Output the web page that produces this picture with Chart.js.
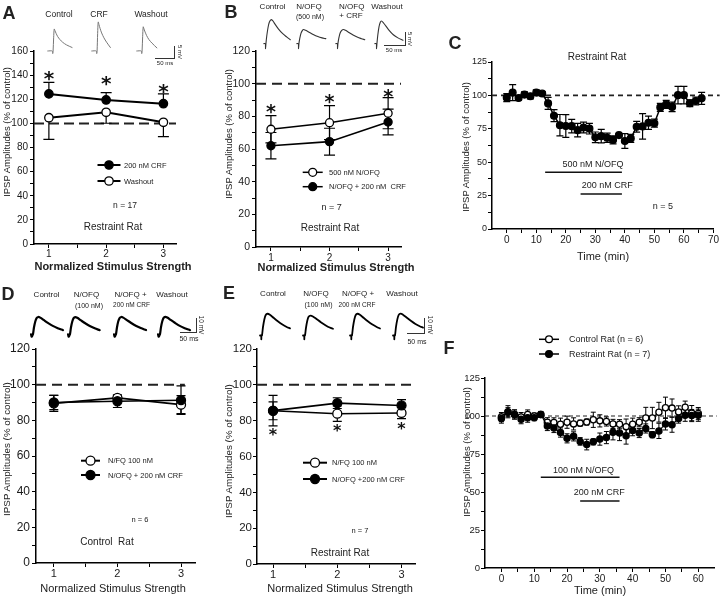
<!DOCTYPE html>
<html><head><meta charset="utf-8">
<script src="https://cdn.jsdelivr.net/npm/chart.js@4.4.1/dist/chart.umd.min.js"></script>
<style>
html,body{margin:0;padding:0;background:#fff;}
#wrap{position:relative;width:720px;height:597px;overflow:hidden;background:#fff;font-family:'Liberation Sans',Arial,sans-serif;color:#222;}
canvas{position:absolute;left:0;top:0;}
.t{position:absolute;white-space:pre;line-height:1;transform:translate(-50%,-50%);}
.sb{position:absolute;border-right:1.3px solid #333;border-bottom:1.3px solid #333;box-sizing:border-box;}
</style></head><body><div id="wrap"></div>
<script>
// ---------------- DATA ----------------
const stimStrength = [1, 2, 3];
const strengthTicks = [1, 1.5, 2, 2.5, 3];
const strengthLabels = [1, 2, 3];
const yTicks160 = [0,10,20,30,40,50,60,70,80,90,100,110,120,130,140,150,160];
const yLabels160 = [0,20,40,60,80,100,120,140,160];
const yTicks120 = [0,10,20,30,40,50,60,70,80,90,100,110,120];
const yLabels120 = [0,20,40,60,80,100,120];
const yTicks125 = [0,12.5,25,37.5,50,62.5,75,87.5,100,112.5,125];
const yLabels125 = [0,25,50,75,100,125];
const cTimeTicks = [0,5,10,15,20,25,30,35,40,45,50,55,60,65,70];
const cTimeLabels = [0,10,20,30,40,50,60,70];
const fTimeTicks = [0,5,10,15,20,25,30,35,40,45,50,55,60];
const fTimeLabels = [0,10,20,30,40,50,60];

// Panel A
const a_crf = [124.4, 119.4, 116.3];
const a_crfErr = [9.6, 6.1, 8.1];
const a_washout = [104.7, 109.2, 100.9];
const a_washoutErr = [17.9, 9.1, 11.9];
const a_stars = [141, 136.6, 130];

// Panel B
const b_nofq = [72.1, 76.1, 81.9];
const b_nofqErr = [8.3, 10.4, 9.5];
const b_nofqCrf = [62, 64.5, 76.5];
const b_nofqCrfErr = [8.1, 8.2, 7.9];
const b_stars = [85.5, 91.4, 94.7];

// Panel C
const c_time = [0,2,4,6,8,10,12,14,16,18,20,22,24,26,28,30,32,34,36,38,40,42,44,46,48,50,52,54,56,58,60,62,64,66];
const c_amp = [98.3,102.1,98,100.6,99.4,102.1,101.4,94,84.8,77.7,77.1,77,74,76,75.1,68.6,69.5,68.3,66.7,70.3,65.9,67.8,76.5,76.8,79.5,79.2,91,93.3,91.4,100.2,100.2,94.1,95.8,97.8];
const c_err = [3,6,1.5,2,2,2,1.5,4.5,4.5,8,8.5,5,5,4,4,4,5,3.5,3,1,5.5,3,4,9.5,5,3,3,3,3.5,6.5,6.5,2.5,3,4.5];
const c_drugLabels = ['500 nM N/OFQ', '200 nM CRF'];
const c_drugStart = [13, 25];
const c_drugEnd = [39, 39];
const c_drugLevel = [42.4, 26.2];

// Panel D
const d_nfq = [89.5, 92.6, 88.8];
const d_nfqErr = [4.5, 1.5, 5];
const d_nofqCrf = [90, 90.7, 91.3];
const d_nofqCrfErr = [4, 3.5, 8];

// Panel E
const e_nfq = [85.5, 83.9, 84.3];
const e_nfqErr = [5, 4.3, 3.2];
const e_nofqCrf = [85.6, 89.8, 88.5];
const e_nofqCrfErr = [8.5, 3, 3.2];
const e_stars = [73.9, 76.1, 77.6];

// Panel F
const f_time = [0,2,4,6,8,10,12,14,16,18,20,22,24,26,28,30,32,34,36,38,40,42,44,46,48,50,52,54,56,58,60];
const f_restraint = [98.3,102.5,101,97.9,98.9,98.9,101,93.4,92.1,89.1,85.3,86.6,83.3,81.2,83,84.8,85.8,89.3,88.8,87,90.5,88.8,91.8,87.7,90.2,94.8,94.3,98.3,100.5,100.3,100.5];
const f_restraintErr = [3,3,3,3,3,2,2,3,3,3,3,3,2.5,3.5,2,4,4,5,5,5.5,3.5,3,3,2,5,4,5,3,4,4,4];
const f_control = [99.3,102.8,101,99.3,101,100,101,95.9,95.8,94.6,95.9,94.8,95.3,96,97.5,96.8,96.4,94.8,94.6,93,94.6,95.9,98.7,98.7,102.5,105.4,105.2,102.7,105.8,101.9,101.6];
const f_controlErr = [3,4,3,3,3,2,2,3,3,4,4,4,2,2,5,4,3,3,3,5,4,3,7,7,6.5,7,6,4,4,5,4];
const f_drugLabels = ['100 nM N/OFQ', '200 nM CRF'];
const f_drugStart = [12, 24];
const f_drugEnd = [36, 36];
const f_drugLevel = [59.7, 44.1];

// Example IPSP traces: [time (ms), amplitude (mV)]
const traceA_control = [[-14,0],[-2,0],[-1,-1.2],[0,0],[1.5,6],[3,10],[5,9.2],[8,8],[12,6.6],[18,5.2],[25,4],[35,2.8],[50,1.6]];
const traceA_crf = [[-14,0],[-2,0],[-1,-1.2],[0,0],[1.5,8],[3,13.2],[5,12],[8,10.2],[12,8.2],[18,6],[25,4],[35,1.6]];
const traceA_washout = [[-14,0],[-2,0],[-1,-1.2],[0,0],[1.5,6.5],[3,11],[5,10],[8,8.6],[12,7],[18,5.2],[26,3.6],[39,1.4]];
const traceB_control = [[-5,0],[-1.5,0],[-1,-2],[0,0],[2,3],[5,6.2],[8,8.2],[12,9.2],[16,8.8],[22,7.4],[30,5.6],[40,3.8],[50,2.5],[58,1.5]];
const traceB_nofq = [[-5,0],[-1.5,0],[-1,-2],[0,0],[2,2],[5,4],[8,5],[11,5.4],[16,5.1],[24,4.4],[34,3.5],[45,2.7],[55,2.2],[64,1.9]];
const traceB_nofqCrf = [[-5,0],[-1.5,0],[-1,-2],[0,0],[2,2],[5,4],[9,5.1],[13.5,5.4],[18,5.1],[26,4.3],[36,3.3],[47,2.4],[56,1.9],[64,1.5]];
const traceB_washout = [[-5,0],[-1.5,0],[-1,-2],[0,0],[2,3.2],[5,6.5],[8,8.2],[10.5,8.7],[15,8.1],[21,6.8],[29,5.1],[39,3.4],[50,2.2],[62,1.3]];
const traceD_control = [[-6,0],[-4,-1.8],[-2,-1],[0,0],[3,5],[7,9.5],[11,12],[16,12.8],[22,12.3],[32,10.6],[45,8.4],[60,6.2],[75,4.5],[91,3]];
const traceD_nofq = [[-6,0],[-4,-1.8],[-2,-1],[0,0],[3,5],[7,9.4],[11,11.9],[16,12.7],[22,12.2],[32,10.5],[45,8.3],[60,6.1],[75,4.4],[90,3]];
const traceD_nofqCrf = [[-6,0],[-4,-1.8],[-2,-1],[0,0],[3,5],[7,9.6],[11,12],[16,12.8],[22,12.3],[32,10.7],[45,8.5],[60,6.3],[75,4.6],[91,3.1]];
const traceD_washout = [[-6,0],[-4,-1.8],[-2,-1],[0,0],[3,5.1],[7,9.6],[11,12.1],[16,12.9],[22,12.4],[32,10.7],[45,8.5],[60,6.2],[75,4.5],[91,3]];
const traceE_control = [[-6,0],[-2.2,0],[-2,-2.5],[-1.8,0],[0,0],[3,5.5],[7,10.5],[11,13.5],[17,14.5],[24,13.8],[35,11.8],[48,9.5],[62,7.3],[75,5.7],[85,4.8]];
const traceE_nofq = [[-6,0],[-2.2,0],[-2,-2.5],[-1.8,0],[0,0],[3,5],[7,9.8],[11,12.5],[17,13.3],[24,12.7],[35,11],[48,8.9],[62,6.9],[75,5.3],[85,4.5]];
const traceE_nofqCrf = [[-6,0],[-2.2,0],[-2,-2.5],[-1.8,0],[0,0],[3,5.5],[7,10.5],[11,13.5],[17,14.5],[24,13.8],[35,11.8],[48,9.5],[62,7.3],[75,5.7],[85,4.7]];
const traceE_washout = [[-6,0],[-2.2,0],[-2,-2.5],[-1.8,0],[0,0],[3,5.6],[7,10.6],[11,13.6],[17,14.6],[24,13.9],[35,12],[48,9.8],[62,7.7],[75,6.2],[85,5.3]];

// ---------------- RENDERING ----------------
const wrap = document.getElementById('wrap');
Chart.defaults.font.family = "'Liberation Sans', Arial, sans-serif";
Chart.defaults.color = '#1a1a1a';
const FONT = "'Liberation Sans', Arial, sans-serif";

const panelDecor = {
  id: 'panelDecor',
  beforeDatasetsDraw(chart, args, o) {
    const ctx = chart.ctx, xs = chart.scales.x, ys = chart.scales.y;
    if (o.ref) {
      ctx.save();
      ctx.strokeStyle = '#222'; ctx.lineWidth = o.ref.width; ctx.setLineDash(o.ref.dash);
      const y = ys.getPixelForValue(o.ref.value);
      ctx.beginPath(); ctx.moveTo(chart.chartArea.left, y); ctx.lineTo(xs.getPixelForValue(o.ref.xEnd), y); ctx.stroke();
      ctx.restore();
    }
    (o.errors || []).forEach(e => {
      const ds = chart.data.datasets[e.ds];
      ctx.save(); ctx.strokeStyle = '#000'; ctx.lineWidth = e.lw || 1.2;
      ds.data.forEach((p, i) => {
        const err = e.values[i];
        const x = xs.getPixelForValue(p.x);
        const hi = ys.getPixelForValue(p.y + (e.dir !== 'down' ? err : 0));
        const lo = ys.getPixelForValue(p.y - (e.dir !== 'up' ? err : 0));
        ctx.beginPath(); ctx.moveTo(x, hi); ctx.lineTo(x, lo);
        if (e.dir !== 'down') { ctx.moveTo(x - e.cap / 2, hi); ctx.lineTo(x + e.cap / 2, hi); }
        if (e.dir !== 'up') { ctx.moveTo(x - e.cap / 2, lo); ctx.lineTo(x + e.cap / 2, lo); }
        ctx.stroke();
      });
      ctx.restore();
    });
  },
  afterDatasetsDraw(chart, args, o) {
    const ctx = chart.ctx, xs = chart.scales.x, ys = chart.scales.y;
    if (o.stars) {
      ctx.save(); ctx.fillStyle = '#111'; ctx.textAlign = 'center'; ctx.textBaseline = 'alphabetic';
      ctx.font = `bold ${o.stars.size}px 'DejaVu Sans', sans-serif`;
      o.stars.x.forEach((xv, i) => {
        ctx.fillText('*', xs.getPixelForValue(xv), ys.getPixelForValue(o.stars.y[i]) + 0.55 * o.stars.size);
      });
      ctx.restore();
    }
    if (o.drugs) {
      const d = o.drugs;
      ctx.save(); ctx.strokeStyle = '#111'; ctx.lineWidth = 1.5; ctx.fillStyle = '#222';
      ctx.font = `${d.size}px ${FONT}`; ctx.textAlign = 'center'; ctx.textBaseline = 'middle';
      d.labels.forEach((lab, i) => {
        const y = ys.getPixelForValue(d.level[i]);
        ctx.beginPath(); ctx.moveTo(xs.getPixelForValue(d.start[i]), y); ctx.lineTo(xs.getPixelForValue(d.end[i]), y); ctx.stroke();
        ctx.fillText(lab, xs.getPixelForValue(d.labelX[i]), y + d.labelDy[i]);
      });
      ctx.restore();
    }
    (o.legend || []).forEach(it => {
      const ds = chart.data.datasets[it.ds];
      ctx.save();
      ctx.strokeStyle = '#000'; ctx.lineWidth = it.lw || 1.5;
      ctx.beginPath(); ctx.moveTo(it.x - it.half, it.y); ctx.lineTo(it.x + it.half, it.y); ctx.stroke();
      ctx.beginPath(); ctx.arc(it.x, it.y, it.r, 0, Math.PI * 2);
      ctx.fillStyle = ds.pointBackgroundColor; ctx.fill(); ctx.lineWidth = 1.3; ctx.stroke();
      ctx.fillStyle = '#222'; ctx.font = `${it.size}px ${FONT}`; ctx.textAlign = 'left'; ctx.textBaseline = 'middle';
      ctx.fillText(ds.label, it.tx, it.y + 0.5);
      ctx.restore();
    });
  }
};

function series(label, xs, ys, filled, r, lw) {
  return {
    label, data: xs.map((x, i) => ({ x, y: ys[i] })),
    borderColor: '#000', borderWidth: lw, pointRadius: r, pointBorderWidth: 1.3,
    pointBackgroundColor: filled ? '#000' : '#fff', pointBorderColor: '#000',
    tension: 0, fill: false, clip: false
  };
}

function makePanel(cfg) {
  const cv = document.createElement('canvas'); cv.width = 720; cv.height = 597;
  wrap.appendChild(cv);
  const yW = 26, xH = 22;
  const axis = (a, isX) => ({
    type: 'linear', min: a.min, max: a.max,
    afterFit: s => { if (isX) s.height = xH; else s.width = yW; },
    afterBuildTicks: s => { s.ticks = a.ticks.map(v => ({ value: v })); },
    ticks: { autoSkip: false, maxRotation: 0, padding: a.pad, color: '#1a1a1a', font: { size: a.font },
      callback: v => a.labeled.includes(v) ? String(v) : '' },
    grid: { display: true, drawOnChartArea: false, drawTicks: true, tickLength: 4, color: '#000', lineWidth: 1 },
    border: { display: true, color: '#000', width: 1.5 }
  });
  return new Chart(cv, {
    type: 'line',
    data: { datasets: cfg.datasets },
    options: {
      responsive: false, animation: false, events: [],
      layout: { padding: { left: cfg.area.l - yW, right: 720 - cfg.area.r, top: cfg.area.t, bottom: 597 - cfg.area.b - xH } },
      scales: { x: axis(cfg.x, true), y: axis(cfg.y, false) },
      plugins: { legend: { display: false }, tooltip: { enabled: false }, panelDecor: cfg.decor }
    },
    plugins: [panelDecor]
  });
}

function makeTrace(spec, tr) {
  const W = Math.round((spec.tmax - spec.tmin) * spec.sx), H = Math.round((spec.vmax - spec.vmin) * spec.sy);
  const cv = document.createElement('canvas'); cv.width = W; cv.height = H;
  cv.style.left = Math.round(tr.x + spec.tmin * spec.sx) + 'px';
  cv.style.top = Math.round(tr.y - spec.vmax * spec.sy) + 'px';
  wrap.appendChild(cv);
  new Chart(cv, {
    type: 'line',
    data: { datasets: [{ data: tr.data.map(p => ({ x: p[0], y: p[1] })), borderColor: spec.color, borderWidth: spec.lw,
      pointRadius: 0, tension: 0.3, clip: false, borderJoinStyle: 'round', borderCapStyle: 'round' }] },
    options: { responsive: false, animation: false, events: [], layout: { padding: 0 },
      scales: { x: { type: 'linear', display: false, min: spec.tmin, max: spec.tmin + W / spec.sx },
                y: { type: 'linear', display: false, min: spec.vmax - H / spec.sy, max: spec.vmax } },
      plugins: { legend: { display: false }, tooltip: { enabled: false } } }
  });
}

function text(t, x, y, size, opt = {}) {
  const d = document.createElement('div'); d.className = 't'; d.textContent = t;
  d.style.left = x + 'px'; d.style.top = y + 'px'; d.style.fontSize = size + 'px';
  if (opt.bold) d.style.fontWeight = 'bold';
  if (opt.rot) d.style.transform = `translate(-50%,-50%) rotate(${opt.rot}deg)`;
  wrap.appendChild(d);
}
function scaleBar(l, t, w, h, bw) {
  const d = document.createElement('div'); d.className = 'sb';
  d.style.left = l + 'px'; d.style.top = t + 'px'; d.style.width = w + 'px'; d.style.height = h + 'px';
  if (bw) { d.style.borderRightWidth = bw + 'px'; d.style.borderBottomWidth = bw + 'px'; }
  wrap.appendChild(d);
}

// ---- Panel A ----
makePanel({
  area: { l: 34, r: 176, t: 51, b: 244 },
  x: { min: 0.74, max: 3.22, ticks: strengthTicks, labeled: strengthLabels, font: 10, pad: 0 },
  y: { min: 0, max: 160, ticks: yTicks160, labeled: yLabels160, font: 10, pad: 2 },
  datasets: [series('200 nM CRF', stimStrength, a_crf, true, 4.2, 2), series('Washout', stimStrength, a_washout, false, 4.2, 2)],
  decor: {
    ref: { value: 100, xEnd: 3.22, dash: [10, 5], width: 2 },
    errors: [{ ds: 0, values: a_crfErr, dir: 'up', cap: 11 }, { ds: 1, values: a_washoutErr, dir: 'down', cap: 11 }],
    stars: { x: stimStrength, y: a_stars, size: 20 },
    legend: [{ ds: 0, x: 109, y: 165, half: 11.5, r: 4.2, tx: 124, size: 7.5, lw: 2 }, { ds: 1, x: 109, y: 181, half: 11.5, r: 4.2, tx: 124, size: 7.5, lw: 2 }]
  }
});
// ---- Panel B ----
makePanel({
  area: { l: 256, r: 401, t: 51, b: 247 },
  x: { min: 0.745, max: 3.22, ticks: strengthTicks, labeled: strengthLabels, font: 10, pad: 1 },
  y: { min: 0, max: 120, ticks: yTicks120, labeled: yLabels120, font: 10.5, pad: 2 },
  datasets: [series('500 nM N/OFQ', stimStrength, b_nofq, false, 4, 1.6), series('N/OFQ + 200 nM  CRF', stimStrength, b_nofqCrf, true, 4, 1.6)],
  decor: {
    ref: { value: 100, xEnd: 3.22, dash: [10, 6], width: 2 },
    errors: [{ ds: 0, values: b_nofqErr, dir: 'both', cap: 11 }, { ds: 1, values: b_nofqCrfErr, dir: 'both', cap: 11 }],
    stars: { x: stimStrength, y: b_stars, size: 19 },
    legend: [{ ds: 0, x: 312.7, y: 172.3, half: 10, r: 4, tx: 329, size: 7.5 }, { ds: 1, x: 312.7, y: 186.7, half: 10, r: 4, tx: 329, size: 7.5 }]
  }
});
// ---- Panel C ----
makePanel({
  area: { l: 492, r: 714, t: 62, b: 229 },
  x: { min: -5, max: 70, ticks: cTimeTicks, labeled: cTimeLabels, font: 10, pad: 1 },
  y: { min: 0, max: 125, ticks: yTicks125, labeled: yLabels125, font: 9, pad: 1 },
  datasets: [series('Restraint Rat', c_time, c_amp, true, 3.4, 1.5)],
  decor: {
    ref: { value: 100, xEnd: 72.1, dash: [5, 4], width: 1.6 },
    errors: [{ ds: 0, values: c_err, dir: 'both', cap: 7 }],
    drugs: { labels: c_drugLabels, start: c_drugStart, end: c_drugEnd, level: c_drugLevel, labelX: [29.2, 34], labelDy: [-7.5, -8.5], size: 9 }
  }
});
// ---- Panel D ----
makePanel({
  area: { l: 36, r: 195, t: 349, b: 563 },
  x: { min: 0.72, max: 3.22, ticks: strengthTicks, labeled: strengthLabels, font: 11, pad: 0 },
  y: { min: 0, max: 120, ticks: yTicks120, labeled: yLabels120, font: 12, pad: 2 },
  datasets: [series('N/OFQ + 200 nM CRF', stimStrength, d_nofqCrf, true, 4.5, 1.6), series('N/FQ 100 nM', stimStrength, d_nfq, false, 4.5, 1.6)],
  decor: {
    ref: { value: 100, xEnd: 3.06, dash: [10, 6], width: 2 },
    errors: [{ ds: 0, values: d_nofqCrfErr, dir: 'both', cap: 9 }, { ds: 1, values: d_nfqErr, dir: 'both', cap: 9 }],
    legend: [{ ds: 1, x: 90.5, y: 460.7, half: 9.5, r: 4.5, tx: 108, size: 7.5, lw: 2 }, { ds: 0, x: 90.5, y: 475, half: 9.5, r: 4.5, tx: 108, size: 7.5, lw: 2 }]
  }
});
// ---- Panel E ----
makePanel({
  area: { l: 257, r: 415, t: 349, b: 564 },
  x: { min: 0.75, max: 3.21, ticks: strengthTicks, labeled: strengthLabels, font: 11, pad: 0 },
  y: { min: 0, max: 120, ticks: yTicks120, labeled: yLabels120, font: 11.5, pad: 1 },
  datasets: [series('N/OFQ +200 nM CRF', stimStrength, e_nofqCrf, true, 4.5, 1.6), series('N/FQ 100 nM', stimStrength, e_nfq, false, 4.5, 1.6)],
  decor: {
    ref: { value: 100, xEnd: 3.19, dash: [10, 6], width: 2 },
    errors: [{ ds: 0, values: e_nofqCrfErr, dir: 'both', cap: 9 }, { ds: 1, values: e_nfqErr, dir: 'both', cap: 9 }],
    stars: { x: stimStrength, y: e_stars, size: 16 },
    legend: [{ ds: 1, x: 315, y: 462.7, half: 12, r: 4.5, tx: 332, size: 7.5, lw: 2 }, { ds: 0, x: 315, y: 479, half: 12, r: 4.5, tx: 332, size: 7.5, lw: 2 }]
  }
});
// ---- Panel F ----
makePanel({
  area: { l: 485, r: 718, t: 378, b: 568 },
  x: { min: -5, max: 65, ticks: fTimeTicks, labeled: fTimeLabels, font: 10, pad: 1 },
  y: { min: 0, max: 125, ticks: yTicks125, labeled: yLabels125, font: 9.5, pad: 1 },
  datasets: [series('Restraint Rat (n = 7)', f_time, f_restraint, true, 3.1, 1.2), series('Control Rat (n = 6)', f_time, f_control, false, 3.1, 1.2)],
  decor: {
    ref: { value: 100, xEnd: 65.6, dash: [4, 3], width: 1.2 },
    errors: [{ ds: 0, values: f_restraintErr, dir: 'both', cap: 5, lw: 1 }, { ds: 1, values: f_controlErr, dir: 'both', cap: 5, lw: 1 }],
    drugs: { labels: f_drugLabels, start: f_drugStart, end: f_drugEnd, level: f_drugLevel, labelX: [25, 29.8], labelDy: [-7, -8.5], size: 9 },
    legend: [{ ds: 1, x: 549, y: 339.3, half: 10, r: 3.4, tx: 569, size: 9, lw: 1.5 }, { ds: 0, x: 549, y: 354, half: 10, r: 3.4, tx: 569, size: 9, lw: 1.5 }]
  }
});

// ---- Traces ----
const trA = { sx: 0.38, sy: 2.2, tmin: -16, tmax: 55, vmin: -3, vmax: 15, color: '#777', lw: 1 };
[[traceA_control, 53], [traceA_crf, 97], [traceA_washout, 142]].forEach(([d, x]) => makeTrace(trA, { data: d, x, y: 51 }));
const trB = { sx: 0.42, sy: 2.6, tmin: -7, tmax: 68, vmin: -3.5, vmax: 11, color: '#333', lw: 1.1 };
[[traceB_control, 265.7], [traceB_nofq, 299.3], [traceB_nofqCrf, 338.3], [traceB_washout, 377.3]].forEach(([d, x]) => makeTrace(trB, { data: d, x, y: 43.3 }));
const trD = { sx: 0.33, sy: 1.35, tmin: -9, tmax: 96, vmin: -4, vmax: 15, color: '#000', lw: 2.2 };
[[traceD_control, 33], [traceD_nofq, 70.3], [traceD_nofqCrf, 116.3], [traceD_washout, 160.3]].forEach(([d, x]) => makeTrace(trD, { data: d, x, y: 334 }));
const trE = { sx: 0.33, sy: 1.5, tmin: -9, tmax: 90, vmin: -4, vmax: 17, color: '#000', lw: 1.8 };
[[traceE_control, 262], [traceE_nofq, 305.3], [traceE_nofqCrf, 352], [traceE_washout, 395.3]].forEach(([d, x]) => makeTrace(trE, { data: d, x, y: 335 }));

// scale bars
scaleBar(155, 46, 19.5, 12.5); text('50 ms', 165, 63, 6); text('5 mV', 179.5, 52, 6, { rot: 90 });
scaleBar(384, 32, 21.5, 13.5); text('50 ms', 394, 49.5, 6); text('5 mV', 410, 38.5, 6, { rot: 90 });
scaleBar(180, 318, 16.5, 14.5, 1.5); text('50 ms', 189, 338, 7); text('10 mV', 201, 324.5, 6.5, { rot: 90 });
scaleBar(407, 318, 17.5, 15.5, 1.5); text('50 ms', 417, 340.5, 7); text('10 mV', 429.5, 325, 6.5, { rot: 90 });

// ---- Text ----
[['A', 9, 13], ['B', 231, 12], ['C', 455, 43], ['D', 8, 294], ['E', 229, 293], ['F', 449, 348]].forEach(([t, x, y]) => text(t, x, y, 18, { bold: true }));

text('Control', 59, 14, 8.5); text('CRF', 99, 14, 8.5); text('Washout', 151, 14, 8.5);
text('Control', 272.5, 7, 8); text('N/OFQ', 309, 7, 8); text('(500 nM)', 310, 15.5, 7); text('N/OFQ', 351.7, 7, 8); text('+ CRF', 351, 15.5, 8); text('Washout', 387, 7, 8);
text('Control', 46.5, 294.5, 8); text('N/OFQ', 86.5, 294.5, 8); text('(100 nM)', 89, 304.5, 7); text('N/OFQ +', 130.5, 294.5, 8); text('200 nM CRF', 131.5, 305, 6.5); text('Washout', 172, 294.5, 8);
text('Control', 273, 293.5, 8); text('N/OFQ', 316, 293.5, 8); text('(100 nM)', 318.5, 303.5, 7); text('N/OFQ +', 358, 293.5, 8); text('200 nM CRF', 357, 304.5, 6.5); text('Washout', 402, 293.5, 8);

const yt = 'IPSP Amplitudes (% of control)';
text(yt, 7, 132, 9.5, { rot: -90 }); text(yt, 228.5, 134, 9.5, { rot: -90 }); text(yt, 466, 147, 9.5, { rot: -90 });
text(yt, 6.5, 449, 9.8, { rot: -90 }); text(yt, 228.5, 451, 9.8, { rot: -90 }); text(yt, 467, 452, 9.5, { rot: -90 });
const xt = 'Normalized Stimulus Strength';
text(xt, 113, 266, 11, { bold: true }); text(xt, 336, 266.5, 11, { bold: true });
text(xt, 113, 588, 11); text(xt, 340, 588.3, 11);
text('Time (min)', 603, 256, 11); text('Time (min)', 600, 590, 11);

text('n = 17', 125, 205, 8.5); text('Restraint Rat', 113, 227, 10);
text('n = 7', 331.7, 207, 9); text('Restraint Rat', 330, 228, 10);
text('Restraint Rat', 597, 57, 10); text('n = 5', 663, 206, 9);
text('n = 6', 140, 520, 7.5); text('Control  Rat', 107, 542, 10);
text('n = 7', 360, 531, 7.5); text('Restraint Rat', 340, 553, 10);
</script></body></html>
